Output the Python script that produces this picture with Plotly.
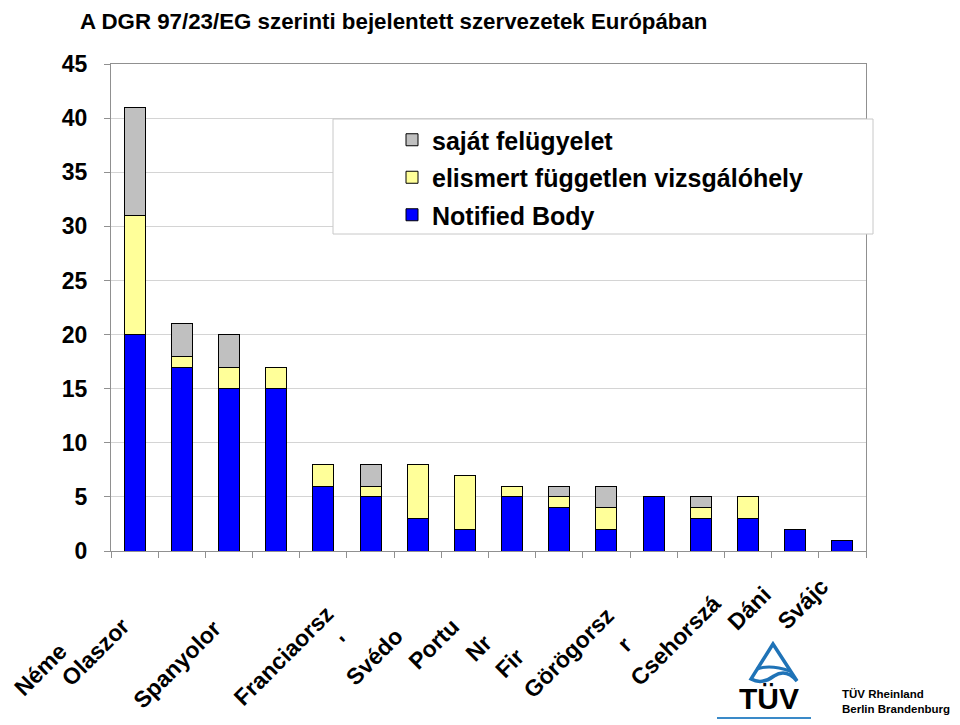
import plotly.graph_objects as go

# ---- data ----
countries = ["Németország", "Olaszország", "Spanyolország", "Franciaország",
             "Ausztria", "Svédország", "Portugália", "Norvégia", "Finnország",
             "Görögország", "Írország", "Csehország", "Dánia", "Svájc",
             "Hollandia", "Belgium"]
notified_body = [20, 17, 15, 15, 6, 5, 3, 2, 5, 4, 2, 5, 3, 3, 2, 1]
elismert = [11, 1, 2, 2, 2, 1, 5, 5, 1, 1, 2, 0, 1, 2, 0, 0]
sajat = [10, 3, 3, 0, 0, 2, 0, 0, 0, 1, 2, 0, 1, 0, 0, 0]
series_names = ["Notified Body", "elismert független vizsgálóhely", "saját felügyelet"]
# visible (clipped) category labels as they appear in the picture
tick_labels = ["Néme", "Olaszor", "Spanyolor", "Franciaorsz", "'", "Svédo", "Portu",
               "Nr", "Fir", "Görögorsz", "r", "Csehorszá", "Dáni", "Svájc"]
title_text = "A DGR 97/23/EG szerinti bejelentett szervezetek Európában"

# ---- layout helpers (window pixel -> paper); page body has an 8px margin ----
OFF = 8
W, H = 960 - OFF, 725 - OFF
L, R, T, B = 111 - OFF, 866 - OFF, 64 - OFF, 551 - OFF


def px(x):
    return (x - OFF - L) / (R - L)


def py(y):
    return (B - (y - OFF)) / (B - T)


FONT = "Liberation Sans, Arial, sans-serif"
colors = ["#0000FF", "#FFFF99", "#C0C0C0"]
ranks = [3, 2, 1]

fig = go.Figure()
for name, vals, col, rk in zip(series_names, [notified_body, elismert, sajat], colors, ranks):
    fig.add_trace(go.Bar(x=countries, y=vals, name=name, legendgroup=name, legendrank=rk,
                         marker=dict(color=col, line=dict(color="black", width=1))))

label_pos = [(8, 702), (55, 692), (127, 715), (227, 712), (333, 655), (339, 692),
             (402, 676), (459, 668), (489, 684), (517, 705), (611, 658), (624, 692),
             (721, 636), (771, 636)]

annotations = [dict(text=title_text, x=px(79), y=1 + T / (B - T), xref="paper", yref="paper",
                    xanchor="left", yanchor="top", showarrow=False, borderpad=0,
                    font=dict(family=FONT, size=22.3, color="black", weight="bold"))]
for lab, (lx, ly) in zip(tick_labels, label_pos):
    annotations.append(dict(text=lab, x=px(lx), y=py(ly), xref="paper", yref="paper",
                            xanchor="left", yanchor="bottom", textangle=-45,
                            showarrow=False, borderpad=0,
                            font=dict(family=FONT, size=23, color="black", weight="bold")))
annotations.append(dict(text="TÜV", x=px(769), y=py(698), xref="paper", yref="paper",
                        xanchor="center", yanchor="middle", showarrow=False,
                        font=dict(family=FONT, size=30, color="black", weight="bold")))
annotations.append(dict(text="TÜV Rheinland<br>Berlin Brandenburg", x=px(841), y=py(701),
                        xref="paper", yref="paper", xanchor="left", yanchor="middle",
                        align="left", showarrow=False, borderpad=0,
                        font=dict(family=FONT, size=11.5, color="black", weight="bold")))

tri = "M {},{} L {},{} Q {},{} {},{} Q {},{} {},{} Z".format(
    px(773), py(644), px(751), py(679), px(762), py(685), px(774), py(676),
    px(786), py(668), px(797), py(681))
wave = "M {},{} Q {},{} {},{}".format(px(757), py(669), px(770), py(664), px(790), py(671))
shapes = [
    dict(type="rect", xref="paper", yref="paper", x0=px(333), x1=px(873), y0=py(234), y1=py(119),
         fillcolor="white", line=dict(color="#c8c8c8", width=1), layer="above"),
    dict(type="path", xref="paper", yref="paper", path=tri,
         line=dict(color="#1f73b7", width=3.5)),
    dict(type="path", xref="paper", yref="paper", path=wave,
         line=dict(color="#1f73b7", width=3)),
    dict(type="line", xref="paper", yref="paper", x0=px(717), x1=px(811), y0=py(718), y1=py(718),
         line=dict(color="#3a8ac8", width=2)),
]

fig.update_layout(
    width=W, height=H,
    margin=dict(l=L, r=W - R, t=T, b=H - B),
    barmode="stack", bargap=0.555,
    paper_bgcolor="white", plot_bgcolor="white",
    font=dict(family=FONT, color="black"),
    showlegend=True,
    legend=dict(x=px(392), y=py(117), xanchor="left", yanchor="top",
                traceorder="grouped", tracegroupgap=2,
                bgcolor="rgba(0,0,0,0)", borderwidth=0,
                font=dict(family=FONT, size=25, color="black", weight="bold")),
    xaxis=dict(showticklabels=False, ticks="outside", tickson="boundaries", ticklen=6,
               tickcolor="#909090", showline=True, linecolor="#909090", mirror=True,
               showgrid=False),
    yaxis=dict(range=[0, 45], dtick=5, ticks="outside", ticklen=6, tickcolor="#909090",
               showline=True, linecolor="#909090", mirror=True, showgrid=True,
               gridcolor="#d4d4d4", ticklabelstandoff=12,
               tickfont=dict(family=FONT, size=23, color="black", weight="bold"),
               zeroline=False),
    annotations=annotations,
    shapes=shapes,
)

fig.write_html("out.html")
